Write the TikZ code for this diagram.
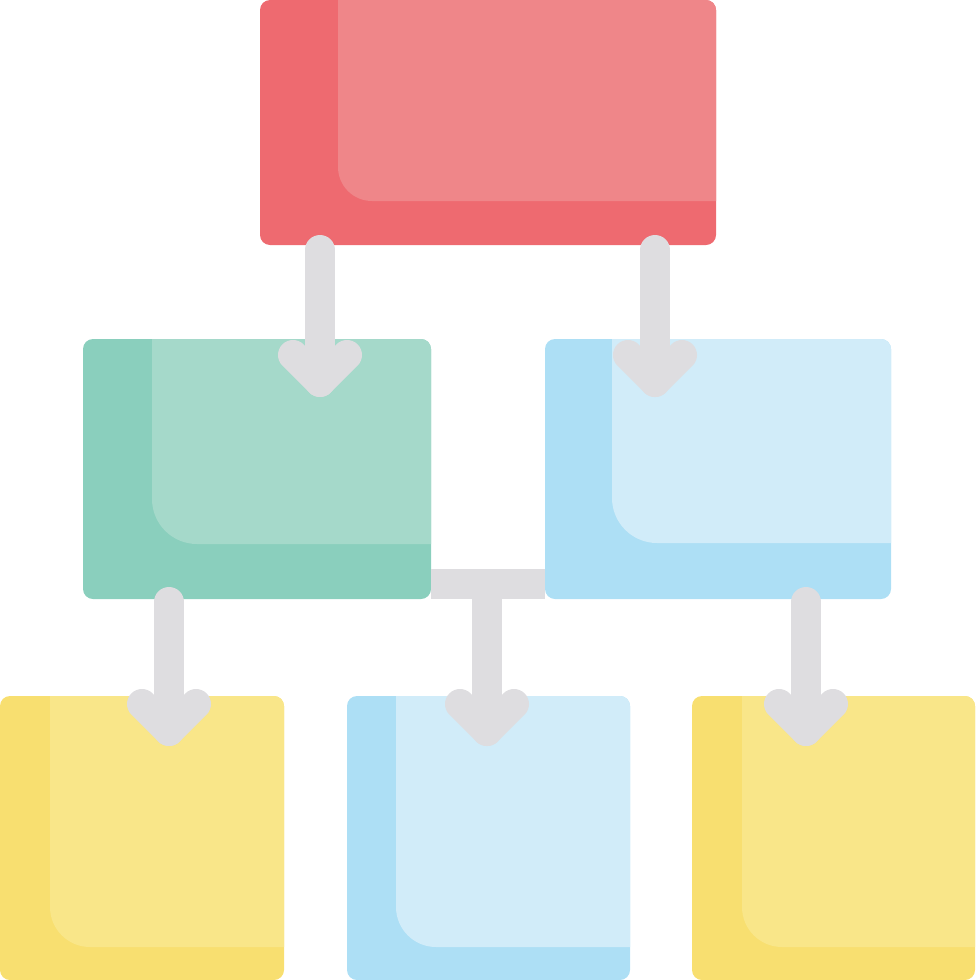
\documentclass[tikz,border=0pt]{standalone}
\definecolor{redD}{HTML}{EE6A70}
\definecolor{redL}{HTML}{EF8689}
\definecolor{greenD}{HTML}{8ACFBD}
\definecolor{greenL}{HTML}{A5D9CA}
\definecolor{blueD}{HTML}{ADDFF5}
\definecolor{blueL}{HTML}{D1ECF9}
\definecolor{yellowD}{HTML}{F8DF70}
\definecolor{yellowL}{HTML}{F9E689}
\definecolor{grayC}{HTML}{DEDDE0}
\tikzset{
 cardbox/.style={rounded corners=10pt, inner sep=0pt, outer sep=0pt, draw=none},
 conn/.style={draw=grayC, line width=30pt, line cap=round, line join=round},
 barline/.style={draw=grayC, line width=30pt, line cap=butt},
}
\def\innerr{30pt}
\newcommand{\card}[9]{%
 \node[cardbox, fill=#8, minimum width={(#4-#2)*1pt}, minimum height={(#5-#3)*1pt},
   path picture={\fill[#9, rounded corners=\innerr]
     ([xshift=#6pt, yshift=60pt]path picture bounding box.north west) rectangle
     ([xshift=60pt, yshift=#7pt]path picture bounding box.south east);}]
   (#1) at ({(#2+#4)/2},{(#3+#5)/2}) {};}
\newcommand{\chev}[1]{%
 \draw[conn] ([shift={(-27,-27)}]#1) -- (#1) -- ([shift={(27,-27)}]#1);}
\begin{document}
\begin{tikzpicture}[x=1pt, y=-1pt]
\useasboundingbox (0,0) rectangle (975,980);
\def\innerr{34pt}
\card{top}{260}{0}{716}{245}{78}{44}{redD}{redL}
\def\innerr{45pt}
\card{green}{83}{339}{431}{599}{69}{55}{greenD}{greenL}
\card{blueR}{545}{339}{891}{599}{67}{56}{blueD}{blueL}
\def\innerr{40pt}
\card{yelL}{0}{696}{284}{980}{50}{33}{yellowD}{yellowL}
\card{blueM}{347}{696}{630}{980}{49}{33}{blueD}{blueL}
\card{yelR}{692}{696}{975}{980}{50}{33}{yellowD}{yellowL}
% connector coordinates
\coordinate (s1) at (320,250); \coordinate (t1) at (320,382);
\coordinate (s2) at (655,250); \coordinate (t2) at (655,382);
\coordinate (s3) at (169,602); \coordinate (t3) at (169,731);
\coordinate (jn) at (487,584); \coordinate (t4) at (487,731);
\coordinate (s5) at (806,602); \coordinate (t5) at (806,731);
% horizontal bar between middle boxes
\draw[barline] (green.east |- jn) -- (blueR.west |- jn);
\draw[conn] (s1) -- (t1); \chev{t1}
\draw[conn] (s2) -- (t2); \chev{t2}
\draw[conn] (s3) -- (t3); \chev{t3}
\draw[conn] (jn) -- (t4); \chev{t4}
\draw[conn] (s5) -- (t5); \chev{t5}
\end{tikzpicture}
\end{document}
